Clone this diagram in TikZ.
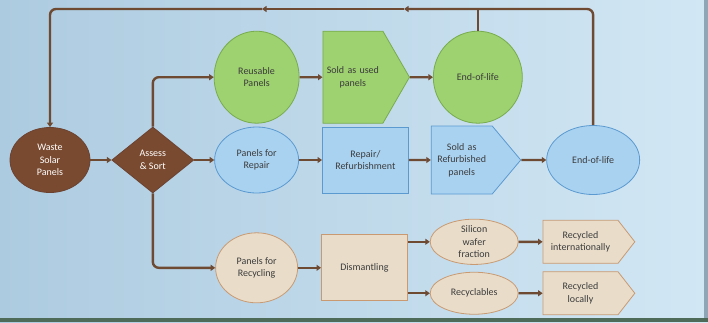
\documentclass[tikz,border=0pt]{standalone}
\usepackage{fontspec}
\setmainfont{Carlito}
\usepackage{tikz}
\usepackage{xcolor}
\usetikzlibrary{positioning,shapes.geometric,shapes.symbols,arrows.meta}

\definecolor{bg-l}{HTML}{ADCBE0}
\definecolor{bg-r}{HTML}{D2E7F4}
\definecolor{strip}{HTML}{4E6A58}
\definecolor{edge-r}{HTML}{8FA6B6}
\definecolor{brown-f}{HTML}{7A4A30}
\definecolor{brown-l}{HTML}{6B4230}
\definecolor{green-f}{HTML}{9ED16F}
\definecolor{green-l}{HTML}{78AC4C}
\definecolor{blue-f}{HTML}{A9D2F1}
\definecolor{blue-l}{HTML}{5B9AD0}
\definecolor{tan-f}{HTML}{E9DDCA}
\definecolor{tan-l}{HTML}{C99A72}
\definecolor{text-g}{HTML}{3C3C3C}
\definecolor{flow-c}{HTML}{6E4A32}

\begin{document}
\begin{tikzpicture}
[
x=1pt, y=-1pt,
font=\fontsize{10}{12.5}\selectfont,
base-a/.style={align=center, inner sep=0pt, text=text-g, line width=0.8pt},
sign-a/.style={base-a, signal, signal to=east, inner xsep=2pt, text width=#1, align=center},
brown-e/.style={base-a, ellipse, fill=brown-f, draw=brown-l, text=white, minimum width=80pt, minimum height=65pt},
brown-d/.style={base-a, diamond, fill=brown-f, draw=brown-l, text=white, minimum width=82pt, minimum height=66pt},
green-e/.style={base-a, ellipse, fill=green-f, draw=green-l, minimum width=85pt, minimum height=92pt},
green-s/.style={sign-a=56pt, signal pointer angle=120, fill=green-f, draw=green-l, minimum height=92pt},
blue-e/.style={base-a, ellipse, fill=blue-f, draw=blue-l, minimum width=84pt, minimum height=66pt},
blue-r/.style={base-a, rectangle, fill=blue-f, draw=blue-l, minimum width=86pt, minimum height=66pt},
blue-s/.style={sign-a=57pt, signal pointer angle=100, fill=blue-f, draw=blue-l, minimum height=68pt},
tan-e/.style={base-a, ellipse, fill=tan-f, draw=tan-l, minimum width=88pt, minimum height=42pt},
tan-r/.style={base-a, rectangle, fill=tan-f, draw=tan-l, minimum width=86pt, minimum height=66pt},
tan-s/.style={sign-a=71pt, signal pointer angle=104, fill=tan-f, draw=tan-l, minimum height=43pt},
line-a/.style={draw=flow-c, line width=2.4pt},
flow-a/.style={line-a, rounded corners=6pt, -{Triangle[length=4.5pt, width=6pt]}}
]
% background
\fill [left color=bg-l, right color=bg-r] (0,0) rectangle (708,322);
\fill [edge-r] (704,0) rectangle (708,322);
\fill [strip] (0,318) rectangle (708,322);
\useasboundingbox (0,0) rectangle (708,322);

% middle row
\node (waste)  [brown-e] at (50,160)              {Waste\\Solar\\Panels};
\node (assess) [brown-d, right = 21pt of waste ] {Assess\\\& Sort};
\node (repair) [blue-e,  right = 20pt of assess] {Panels for\\Repair};
\node (refurb) [blue-r,  right = 23pt of repair] {Repair/\\Refurbishment};
\node (sold-b) [blue-s,  right = 22pt of refurb] {Sold as\\Refurbished\\panels};
\node (end-b)  [blue-e,  right = 25pt of sold-b, minimum width=93pt, minimum height=69pt] {End-of-life};

% top row
\node (reuse)  [green-e, above = 3pt of repair ] {Reusable\\Panels};
\node (sold-g) [green-s, right = 23pt of reuse ] {Sold as used\\panels};
\node (end-g)  [green-e, right = 23pt of sold-g, minimum width=89pt] {End-of-life};

% bottom row
\node (recyc)   [tan-e, below = 39pt of repair, minimum width=82pt, minimum height=70pt] {Panels for\\Recycling};
\node (dism)    [tan-r, right = 23pt of recyc] {Dismantling};
\node (silicon) [tan-e, right = 22pt of dism, yshift=26pt] {Silicon\\wafer\\fraction};
\node (recycl)  [tan-e, below = 7pt of silicon] {Recyclables};
\node (rec-int) [tan-s, right = 24pt of silicon] {Recycled\\internationally};
\node (rec-loc) [tan-s, right = 24pt of recycl ] {Recycled\\locally};

% connectors
\draw [flow-a] (waste)  -- (assess);
\draw [flow-a] (assess) -- (repair);
\draw [flow-a] (repair) -- (refurb);
\draw [flow-a] (refurb) -- (sold-b);
\draw [flow-a] (sold-b) -- (end-b);
\draw [flow-a] (reuse)  -- (sold-g);
\draw [flow-a] (sold-g) -- (end-g);
\draw [flow-a] (recyc)  -- (dism);
\draw [flow-a] (assess.north) |- (reuse);
\draw [flow-a] (assess.south) |- (recyc);
\draw [flow-a] (dism.east |- silicon) -- (silicon);
\draw [flow-a] (dism.east |- recycl)  -- (recycl);
\draw [flow-a] (silicon) -- (rec-int);
\draw [flow-a] (recycl)  -- (rec-loc);

% loop back
\coordinate (top-2) at (404,9);
\coordinate (top-1) at (262,9);
\draw [flow-a] (end-b.north) |- (top-2);
\draw [flow-a] (top-2) -- (top-1);
\draw [flow-a] (top-1) -| (waste.north);
\draw [line-a] (end-g.north) -- (end-g.north |- top-2);
\end{tikzpicture}
\end{document}
